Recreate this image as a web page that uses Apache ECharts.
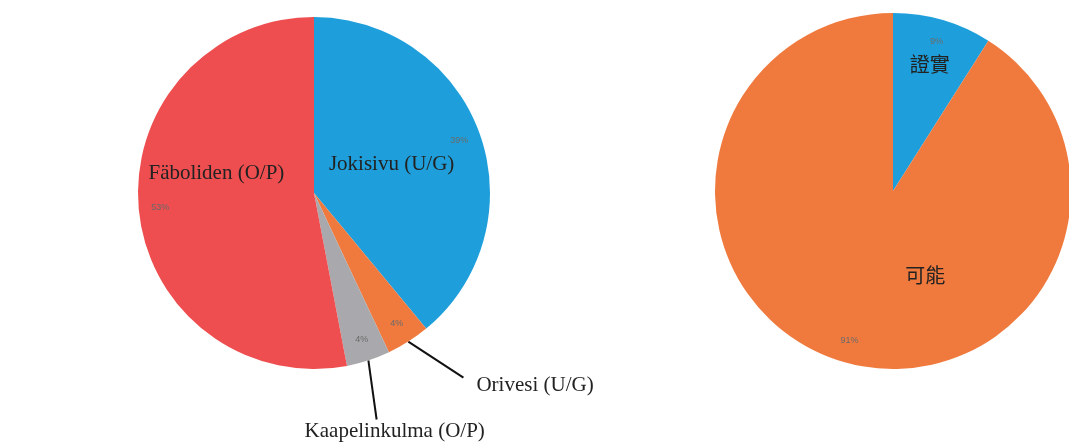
<!DOCTYPE html>
<html>
<head>
<meta charset="utf-8">
<script src="https://cdn.jsdelivr.net/npm/echarts@6/dist/echarts.min.js"></script>
<style>
html,body{margin:0;padding:0;background:#fff;}
#chart{width:1069px;height:445px;}
</style>
</head>
<body>
<div id="chart"></div>
<script>
// ---- data ----
const leftNames = ['Jokisivu (U/G)', 'Orivesi (U/G)', 'Kaapelinkulma (O/P)', 'Fäboliden (O/P)'];
const leftValues = [39, 4, 4, 53];
const rightNames = ['證實', '可能'];
const rightValues = [9, 91];

// ---- styles ----
const leftColors = ['#1e9fdb', '#f07a3e', '#a9a9ad', '#ee4e4f'];
const rightColors = ['#1e9fdb', '#f07a3e'];
const leftCenter = [314, 193], leftR = 176;
const rightCenter = [893, 191], rightR = 178;
const serif = '"Liberation Serif", "DejaVu Serif", serif';
const cjk = '"Noto Sans CJK TC", "Noto Sans CJK SC", sans-serif';

// name label nudges (layout only): [dx, dy, lineEndFromLabelLeft, lineEndFromLabelMidY]
const nameNudge = {
  'Jokisivu (U/G)': [-8, 2],
  'Fäboliden (O/P)': [-7, -28],
  'Orivesi (U/G)': [39, 6, -13, -8],
  'Kaapelinkulma (O/P)': [-87, 15, 72, -12],
  '證實': [11, -38],
  '可能': [58, -4]
};

function nameLayout(names) {
  return function (p) {
    const nd = nameNudge[names[p.dataIndex]];
    if (!nd) return {};
    const out = { dx: nd[0], dy: nd[1] };
    if (nd.length > 2 && p.labelLinePoints) {
      const r = p.labelRect;
      const left = r.x + nd[0];
      const midY = r.y + r.height / 2 + nd[1];
      out.labelLinePoints = [p.labelLinePoints[0], [left + nd[2], midY + nd[3]]];
    }
    return out;
  };
}

function mainSeries(names, values, colors, center, r) {
  return {
    type: 'pie', center: center, radius: [0, r], startAngle: 90, clockwise: true,
    silent: true, animation: false,
    label: { show: false }, labelLine: { show: false },
    itemStyle: { borderWidth: 0 },
    data: names.map((n, i) => ({ name: n, value: values[i], itemStyle: { color: colors[i] } }))
  };
}
function pctSeries(names, values, center, r) {
  return {
    type: 'pie', center: center, radius: [r * 0.72, r], startAngle: 90, clockwise: true,
    silent: true, animation: false,
    itemStyle: { color: 'rgba(0,0,0,0)' },
    label: { show: true, position: 'inside', formatter: '{d}%', fontSize: 9,
             color: '#6a6a6a', fontFamily: 'Liberation Sans, Arial, sans-serif' },
    labelLine: { show: false },
    data: names.map((n, i) => ({ name: n, value: values[i] }))
  };
}

const leftNameData = leftNames.map((n, i) => ({ name: n, value: leftValues[i] }));
leftNameData[1].label = { position: 'outside' };
leftNameData[1].labelLine = { show: true, length: 45, length2: 0 };
leftNameData[2].label = { position: 'outside' };
leftNameData[2].labelLine = { show: true, length: 59, length2: 0 };

const option = {
  backgroundColor: '#ffffff',
  animation: false,
  series: [
    mainSeries(leftNames, leftValues, leftColors, leftCenter, leftR),
    pctSeries(leftNames, leftValues, leftCenter, leftR),
    {
      type: 'pie', center: leftCenter, radius: [0, leftR], startAngle: 90, clockwise: true,
      silent: true, animation: false, avoidLabelOverlap: false,
      itemStyle: { color: 'rgba(0,0,0,0)' },
      label: { show: true, position: 'inside', formatter: '{b}', fontSize: 21,
               color: '#222', fontFamily: serif },
      labelLine: { show: false, lineStyle: { color: '#111', width: 2 } },
      labelLayout: nameLayout(leftNames),
      data: leftNameData
    },
    mainSeries(rightNames, rightValues, rightColors, rightCenter, rightR),
    pctSeries(rightNames, rightValues, rightCenter, rightR),
    {
      type: 'pie', center: rightCenter, radius: [0, rightR], startAngle: 90, clockwise: true,
      silent: true, animation: false, avoidLabelOverlap: false,
      itemStyle: { color: 'rgba(0,0,0,0)' },
      label: { show: true, position: 'inside', formatter: '{b}', fontSize: 20,
               color: '#222', fontFamily: cjk },
      labelLine: { show: false },
      labelLayout: nameLayout(rightNames),
      data: rightNames.map((n, i) => ({ name: n, value: rightValues[i] }))
    }
  ]
};

const chart = echarts.init(document.getElementById('chart'), null, { renderer: 'canvas' });
chart.setOption(option);
</script>
</body>
</html>
